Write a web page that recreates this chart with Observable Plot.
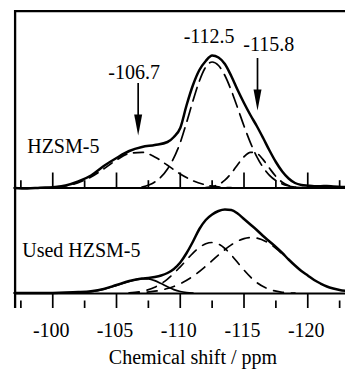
<!DOCTYPE html>
<html><head><meta charset="utf-8">
<script src="https://cdn.jsdelivr.net/npm/d3@7"></script>
<script src="https://cdn.jsdelivr.net/npm/@observablehq/plot@0.6"></script>
<style>html,body{margin:0;padding:0;background:#fff;}#chart svg{display:block}</style>
</head><body><div id="chart"></div>
<script>
// ---- data ----
const tickValues = [-100, -105, -110, -115, -120];
const tickLabels = ["-100", "-105", "-110", "-115", "-120"];
const minorTicks = [-97.5, -102.5, -107.5, -112.5, -117.5, -122.5];
const peakPpm = [-106.7, -112.5, -115.8];
const peakLabels = ["-106.7", "-112.5", "-115.8"];
const sampleLabels = ["HZSM-5", "Used HZSM-5"];
const axisTitle = "Chemical shift / ppm";

// HZSM-5 (upper trace) total spectrum
const freshPpm = [-97,-98,-99,-100,-101,-102,-103,-104,-105,-106,-107,-108,-109,-109.5,-110,-110.5,-111,-111.5,-112,-112.5,-113,-113.5,-114,-114.5,-115,-115.5,-116,-116.5,-117,-117.5,-118,-118.5,-119,-119.5,-120,-120.5,-121,-121.5,-122,-123];
const freshTotal = [0,-0.5,0.3,0.8,2.5,6.5,12.5,22,30,37,41,43,46,51,60,83,103,118,127,132.5,130.5,124,112,98,85,73,62,50,37.5,26,16.5,9.5,5,3,2.3,1.8,1.8,2,1.6,1];
// HZSM-5 fitted components
const freshQ1Ppm = [-99,-100,-101,-102,-103,-104,-105,-106,-107,-108,-109,-110,-111,-112,-113,-114];
const freshQ1 = [0.2,0.7,2.1,5.3,11.0,19.1,28.0,34.5,35.7,31.1,22.7,14.0,7.2,3.1,1.1,0.35];
const freshQ2Ppm = [-107,-108,-109,-110,-110.5,-111,-111.5,-112,-112.5,-113,-113.5,-114,-114.5,-115,-115.5,-116,-116.5,-117,-118,-119,-120];
const freshQ2 = [0.9,6,19,45.4,65.7,87.3,107,121,126,122.5,112.5,97.6,80,62,45.4,31.4,20.5,12.6,4.1,1.0,0.2];
const freshQ3Ppm = [-112,-113,-113.5,-114,-114.5,-115,-115.5,-116,-116.5,-117,-117.5,-118,-118.5,-119,-120];
const freshQ3 = [0.4,3.5,7.8,14.7,23.3,31.3,35.7,34.6,28.4,19.7,11.6,5.8,2.5,0.9,0.1];

// Used HZSM-5 (lower trace) total spectrum
const usedPpm = [-97,-98,-99,-100,-101,-102,-103,-104,-105,-106,-107,-107.5,-108,-108.5,-109,-109.5,-110,-110.5,-111,-111.5,-112,-112.5,-113,-113.5,-114,-114.5,-115,-115.5,-116,-116.5,-117,-117.5,-118,-118.5,-119,-119.5,-120,-120.5,-121,-121.5,-122,-122.5,-123];
const usedTotal = [0.5,0.5,0.5,0.6,0.9,1.4,2.3,4.5,8.5,12.5,15,15.5,16.5,18,20.5,24.5,31,40.5,52,64.5,73.5,79,82.5,84,83.5,80,74.5,69,63.5,57.5,52,46.5,40.5,34,28,22.5,18,13.5,10,7,5,3.5,2.5];
// Used HZSM-5 fitted components
const usedCPpm = [-101,-102,-103,-104,-105,-106,-107,-107.5,-108,-108.5,-109,-109.5,-110,-110.5,-111];
const usedC = [0.3,0.6,1.8,4.3,8.1,12.1,14.6,14.5,12.9,9.9,6.7,3.9,2.0,0.9,0.3];
const usedAPpm = [-106,-107,-108,-109,-110,-111,-111.5,-112,-112.5,-113,-113.5,-114,-114.5,-115,-115.5,-116,-117,-118,-119];
const usedA = [0.6,2.2,6.3,14.4,26.7,40.4,46,49.7,51,49.4,45,38.5,31,23.4,16.6,11.0,4.1,1.2,0.3];
const usedBPpm = [-106,-107,-108,-109,-110,-111,-112,-113,-114,-115,-115.6,-116,-117,-117.5,-118];
const usedB = [0.3,0.9,2.3,5.0,9.8,17.2,27.3,38.5,48.6,54.9,56,55.5,49.8,45.2,39.7];

// ---- layout ----
const xDomain = [-97, -122.96];
const yDomain = [-15, 283];
const topOffset = 105.5;
const rows = (xs, ys, off) => xs.map((x, i) => ({x, y: ys[i] + off}));

const font = "Liberation Serif, Times New Roman, serif";
const arrowHead = {draw(ctx) { ctx.moveTo(-4, -21); ctx.lineTo(4, -21); ctx.lineTo(0, 0); ctx.closePath(); }};

const solid = {x: "x", y: "y", stroke: "black", strokeWidth: 2.5, curve: "monotone-x", strokeLinejoin: "round", strokeLinecap: "round"};
const dashed = (dash) => ({x: "x", y: "y", stroke: "black", strokeWidth: 1.7, curve: "monotone-x", strokeDasharray: dash});

const chart = Plot.plot({
  width: 345, height: 369,
  marginTop: 10, marginBottom: 61, marginLeft: 14, marginRight: 0,
  style: {fontFamily: font, fontSize: "20px", background: "white", color: "black"},
  x: {domain: xDomain, axis: null},
  y: {domain: yDomain, axis: null},
  marks: [
    // frame (left + top)
    Plot.ruleX([xDomain[0]], {stroke: "black", strokeWidth: 2.3, dx: 0.6}),
    Plot.ruleY([yDomain[1]], {stroke: "black", strokeWidth: 2.3, dy: 0.6}),
    // baselines
    Plot.ruleY([0, topOffset], {stroke: "black", strokeWidth: 2}),
    // lower ticks (inside, upward from bottom)
    Plot.ruleX(tickValues, {y1: -15, y2: 0, stroke: "black", strokeWidth: 1.7}),
    Plot.ruleX(minorTicks, {y1: -15, y2: -7.5, stroke: "black", strokeWidth: 1.7}),
    // upper ticks
    Plot.ruleX(tickValues, {y1: topOffset, y2: topOffset + 15, stroke: "black", strokeWidth: 1.7}),
    Plot.ruleX(minorTicks, {y1: topOffset, y2: topOffset + 7.3, stroke: "black", strokeWidth: 1.7}),
    // x tick labels
    Plot.text(tickValues, {x: d => d, frameAnchor: "bottom", dy: 28, dx: -1.5, text: d => tickLabels[tickValues.indexOf(d)], lineAnchor: "bottom", fontSize: 20, fill: "black"}),
    // upper trace
    Plot.line(rows(freshQ1Ppm, freshQ1, topOffset), dashed("10,7")),
    Plot.line(rows(freshQ2Ppm, freshQ2, topOffset), dashed("14,7")),
    Plot.line(rows(freshQ3Ppm, freshQ3, topOffset), dashed("10,7")),
    Plot.line(rows(freshPpm, freshTotal, topOffset), solid),
    // lower trace
    Plot.line(rows(usedAPpm, usedA, 0), dashed("10,8")),
    Plot.line(rows(usedBPpm, usedB, 0), dashed("10,8")),
    Plot.line(rows(usedCPpm, usedC, 0), {x: "x", y: "y", stroke: "black", strokeWidth: 1.7, curve: "monotone-x"}),
    Plot.line(rows(usedPpm, usedTotal, 0), solid),
    // arrows
    Plot.ruleX([peakPpm[0]], {y1: 158 + 18, y2: 210, stroke: "black", strokeWidth: 1.7}),
    Plot.dot([peakPpm[0]], {x: d => d, y: () => 158, symbol: arrowHead, fill: "black", stroke: "none"}),
    Plot.ruleX([peakPpm[2]], {y1: 183 + 18, y2: 235, dx: 3.3, stroke: "black", strokeWidth: 1.7}),
    Plot.dot([peakPpm[2]], {x: d => d, y: () => 183, dx: 3.3, symbol: arrowHead, fill: "black", stroke: "none"}),
    // peak labels
    Plot.text([0], {x: () => peakPpm[0], y: () => 215, text: () => peakLabels[0], dx: -4, lineAnchor: "bottom", fontSize: 20, fill: "black"}),
    Plot.text([1], {x: () => peakPpm[1], y: () => 251, text: () => peakLabels[1], dx: -3, lineAnchor: "bottom", fontSize: 20, fill: "black"}),
    Plot.text([2], {x: () => peakPpm[2], y: () => 243, text: () => peakLabels[2], dx: 14.5, lineAnchor: "bottom", fontSize: 20, fill: "black"}),
    // sample labels
    Plot.text([sampleLabels[0]], {x: () => xDomain[0], y: () => topOffset + 35.5, text: d => d, dx: 12.7, textAnchor: "start", lineAnchor: "bottom", fontSize: 20, fill: "black"}),
    Plot.text([sampleLabels[1]], {x: () => xDomain[0], y: () => 36.3, text: d => d, dx: 7.7, textAnchor: "start", lineAnchor: "bottom", fontSize: 20, fill: "black"}),
    // axis title
    Plot.text([axisTitle], {frameAnchor: "bottom", dy: 55, dx: 13, text: d => d, lineAnchor: "bottom", fontSize: 20, fill: "black"})
  ]
});
document.getElementById("chart").appendChild(chart);
</script>
</body></html>
